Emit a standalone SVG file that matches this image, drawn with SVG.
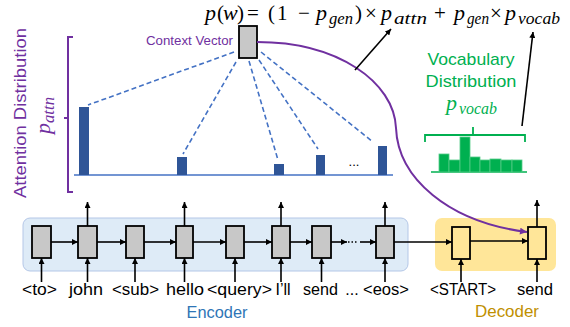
<svg xmlns="http://www.w3.org/2000/svg" width="570" height="327" viewBox="0 0 570 327">
<defs>
<marker id="ah" viewBox="0 0 10 10" refX="10" refY="5" markerWidth="6" markerHeight="6" orient="auto" markerUnits="userSpaceOnUse"><path d="M0,0 L10,5 L0,10 z" fill="#000"/></marker>
<marker id="ahp" viewBox="0 0 10 10" refX="10" refY="5" markerWidth="8" markerHeight="7" orient="auto" markerUnits="userSpaceOnUse"><path d="M0,0 L10,5 L0,10 z" fill="#7030A0"/></marker>
</defs>
<style>
.lbl{font-family:"Liberation Sans",Arial,sans-serif;font-size:16px;fill:#000;text-anchor:middle}
.math{font-family:"Liberation Serif","Times New Roman",serif;font-size:21px;fill:#000}
.it{font-style:italic;font-size:22px}
.sub{font-style:italic;font-size:17px}
.enc{fill:#C8C8C8;stroke:#000;stroke-width:1.8}
.dec{fill:#FFE699;stroke:#000;stroke-width:1.8}
.arr{stroke:#000;stroke-width:1.6;fill:none;marker-end:url(#ah)}
.dash{stroke:#4472C4;stroke-width:1.6;stroke-dasharray:5 3;fill:none}
.bar{fill:#2F5597}
.gbar{fill:#00B050;stroke:#55CC88;stroke-width:0.8}
.purple{fill:#7030A0;font-family:"Liberation Sans",Arial,sans-serif}
.green{fill:#00B050}
</style>
<rect width="570" height="327" fill="#fff"/>

<g id="encoder-bg">
<rect x="23" y="218" width="385" height="53" rx="7" fill="#DEEBF7" stroke="#B4C7E7" stroke-width="1"/>
<text x="217" y="318" class="lbl" style="fill:#2E75B6;font-size:17px" textLength="61" lengthAdjust="spacingAndGlyphs">Encoder</text>
</g>
<g id="decoder-bg">
<rect x="435" y="218" width="121" height="53" rx="7" fill="#FFE699"/>
<text x="507" y="317" class="lbl" style="fill:#BF9000;font-size:17px" textLength="64" lengthAdjust="spacingAndGlyphs">Decoder</text>
</g>

<g id="formula">
<text class="math" y="20"><tspan x="205" class="it">p</tspan><tspan x="217">(</tspan><tspan x="223" class="it">w</tspan><tspan x="237">)</tspan><tspan x="247">=</tspan><tspan x="268">(</tspan><tspan x="277">1</tspan><tspan x="298">−</tspan><tspan x="316" class="it">p</tspan><tspan x="329" y="24" class="sub" textLength="24" lengthAdjust="spacingAndGlyphs">gen</tspan><tspan x="355" y="20">)</tspan><tspan x="365">×</tspan><tspan x="381" class="it">p</tspan><tspan x="394" y="24" class="sub" textLength="33" lengthAdjust="spacingAndGlyphs">attn</tspan><tspan x="434" y="20">+</tspan><tspan x="454" class="it">p</tspan><tspan x="467" y="24" class="sub" textLength="22" lengthAdjust="spacingAndGlyphs">gen</tspan><tspan x="490" y="20">×</tspan><tspan x="505" class="it">p</tspan><tspan x="518" y="24" class="sub" textLength="42" lengthAdjust="spacingAndGlyphs">vocab</tspan></text>
</g>

<g id="attention-distribution">
<text class="purple" font-size="16" transform="translate(26,113) rotate(-90)" text-anchor="middle" textLength="170" lengthAdjust="spacingAndGlyphs">Attention Distribution</text>
<text class="math" style="fill:#7030A0" transform="translate(50,134) rotate(-90)"><tspan class="it">p</tspan><tspan class="sub" dy="4" textLength="26" lengthAdjust="spacingAndGlyphs">attn</tspan></text>
<path d="M73,37 H68 V192 H73 M68,118 H64" fill="none" stroke="#7030A0" stroke-width="2"/>
<line x1="74" y1="175" x2="393" y2="175" stroke="#4472C4" stroke-width="1.5"/>
<rect class="bar" x="79" y="107" width="10" height="68"/>
<rect class="bar" x="177" y="157" width="10" height="18"/>
<rect class="bar" x="274" y="164" width="10" height="11"/>
<rect class="bar" x="316" y="155" width="9" height="20"/>
<rect class="bar" x="378" y="146" width="9" height="29"/>
<text x="354" y="166" font-family="Liberation Sans,Arial,sans-serif" font-size="13" text-anchor="middle">...</text>
</g>

<g id="context-vector">
<rect class="enc" x="239" y="26" width="18" height="32"/>
<text x="233" y="45" class="purple" font-size="12" text-anchor="end" textLength="87" lengthAdjust="spacingAndGlyphs">Context Vector</text>
</g>

<g id="vocab-distribution">
<text x="471" y="65" class="green" font-family="Liberation Sans,Arial,sans-serif" font-size="17" text-anchor="middle" textLength="87" lengthAdjust="spacingAndGlyphs">Vocabulary</text>
<text x="471" y="87" class="green" font-family="Liberation Sans,Arial,sans-serif" font-size="17" text-anchor="middle" textLength="91" lengthAdjust="spacingAndGlyphs">Distribution</text>
<text class="math" style="fill:#00B050" y="110"><tspan x="446" class="it">p</tspan><tspan x="459" y="114" class="sub" textLength="38" lengthAdjust="spacingAndGlyphs">vocab</tspan></text>
<path d="M425,142 V135 H525 V142 M473,135 V127" fill="none" stroke="#00B050" stroke-width="1.8"/>
<line x1="431" y1="172" x2="527" y2="172" stroke="#00B050" stroke-width="1.5"/>
<rect class="gbar" x="439" y="154" width="10" height="18"/>
<rect class="gbar" x="449" y="160" width="11" height="12"/>
<rect class="gbar" x="460" y="137" width="10" height="35"/>
<rect class="gbar" x="470" y="157" width="10" height="15"/>
<rect class="gbar" x="480" y="160" width="10" height="12"/>
<rect class="gbar" x="490" y="159" width="11" height="13"/>
<rect class="gbar" x="501" y="160" width="11" height="12"/>
<rect class="gbar" x="512" y="160" width="10" height="12"/>
</g>

<g id="enc-to"><rect class="enc" x="32" y="226" width="19" height="32"/><text class="lbl" x="39.5" y="295" textLength="35" lengthAdjust="spacingAndGlyphs">&lt;to&gt;</text></g>
<g id="enc-john"><rect class="enc" x="78" y="226" width="19" height="32"/><text class="lbl" x="86" y="295" textLength="34" lengthAdjust="spacingAndGlyphs">john</text></g>
<g id="enc-sub"><rect class="enc" x="126" y="226" width="18" height="32"/><text class="lbl" x="135.5" y="295" textLength="47" lengthAdjust="spacingAndGlyphs">&lt;sub&gt;</text></g>
<g id="enc-hello"><rect class="enc" x="176" y="226" width="17" height="32"/><text class="lbl" x="185" y="295" textLength="38" lengthAdjust="spacingAndGlyphs">hello</text></g>
<g id="enc-query"><rect class="enc" x="226" y="226" width="18" height="32"/><text class="lbl" x="239.5" y="295" textLength="65" lengthAdjust="spacingAndGlyphs">&lt;query&gt;</text></g>
<g id="enc-ill"><rect class="enc" x="272" y="226" width="18" height="32"/><text class="lbl" x="283" y="295" style="font-size:16px">I’ll</text></g>
<g id="enc-send"><rect class="enc" x="312" y="226" width="19" height="32"/><text class="lbl" x="320.5" y="295" textLength="35" lengthAdjust="spacingAndGlyphs">send</text></g>
<g id="enc-ellipsis"><text class="lbl" x="352" y="295">...</text></g>
<g id="enc-eos"><rect class="enc" x="376" y="226" width="18" height="32"/><text class="lbl" x="386" y="295" textLength="46" lengthAdjust="spacingAndGlyphs">&lt;eos&gt;</text></g>

<g id="dec-start"><rect class="dec" x="452" y="227" width="18" height="32"/><text class="lbl" x="463" y="295" textLength="66" lengthAdjust="spacingAndGlyphs">&lt;START&gt;</text></g>
<g id="dec-send"><rect class="dec" x="528" y="227" width="18" height="32"/><text class="lbl" x="535" y="295" textLength="36" lengthAdjust="spacingAndGlyphs">send</text></g>

<g id="connectors">
<line class="dash" x1="234" y1="52" x2="88" y2="105"/>
<line class="dash" x1="236" y1="62" x2="183" y2="154"/>
<line class="dash" x1="249" y1="61" x2="278" y2="160"/>
<line class="dash" x1="259" y1="60" x2="318" y2="149"/>
<line class="dash" x1="261" y1="52" x2="373" y2="142"/>
<path d="M257,42 C338,42 394,82 396,128 C398,178 448,222 527,232" fill="none" stroke="#7030A0" stroke-width="2" marker-end="url(#ahp)"/>
<line class="arr" x1="355" y1="70" x2="391" y2="29"/>
<line class="arr" x1="522" y1="126" x2="533" y2="32"/>
<line class="arr" x1="51" y1="242" x2="78" y2="242"/>
<line class="arr" x1="97" y1="242" x2="126" y2="242"/>
<line class="arr" x1="144" y1="242" x2="176" y2="242"/>
<line class="arr" x1="193" y1="242" x2="226" y2="242"/>
<line class="arr" x1="244" y1="242" x2="272" y2="242"/>
<line class="arr" x1="290" y1="242" x2="312" y2="242"/>
<line class="arr" x1="331" y1="242" x2="347" y2="242"/>
<line x1="348" y1="242" x2="358" y2="242" stroke="#000" stroke-width="1.6" stroke-dasharray="1.5 2"/>
<line class="arr" x1="360" y1="242" x2="376" y2="242"/>
<line class="arr" x1="394" y1="242" x2="452" y2="242"/>
<line class="arr" x1="470" y1="241" x2="528" y2="241"/>
<line class="arr" x1="87.5" y1="226" x2="87.5" y2="202"/>
<line class="arr" x1="184.5" y1="226" x2="184.5" y2="202"/>
<line class="arr" x1="281" y1="226" x2="281" y2="202"/>
<line class="arr" x1="385" y1="226" x2="385" y2="202"/>
<line class="arr" x1="537" y1="227" x2="537" y2="200"/>
<line class="arr" x1="41.5" y1="282" x2="41.5" y2="258"/>
<line class="arr" x1="87.5" y1="282" x2="87.5" y2="258"/>
<line class="arr" x1="135" y1="282" x2="135" y2="258"/>
<line class="arr" x1="184.5" y1="282" x2="184.5" y2="258"/>
<line class="arr" x1="235" y1="282" x2="235" y2="258"/>
<line class="arr" x1="281" y1="282" x2="281" y2="258"/>
<line class="arr" x1="321.5" y1="282" x2="321.5" y2="258"/>
<line class="arr" x1="385" y1="282" x2="385" y2="258"/>
<line class="arr" x1="461" y1="282" x2="461" y2="259"/>
<line class="arr" x1="537" y1="282" x2="537" y2="259"/>
</g>
</svg>
